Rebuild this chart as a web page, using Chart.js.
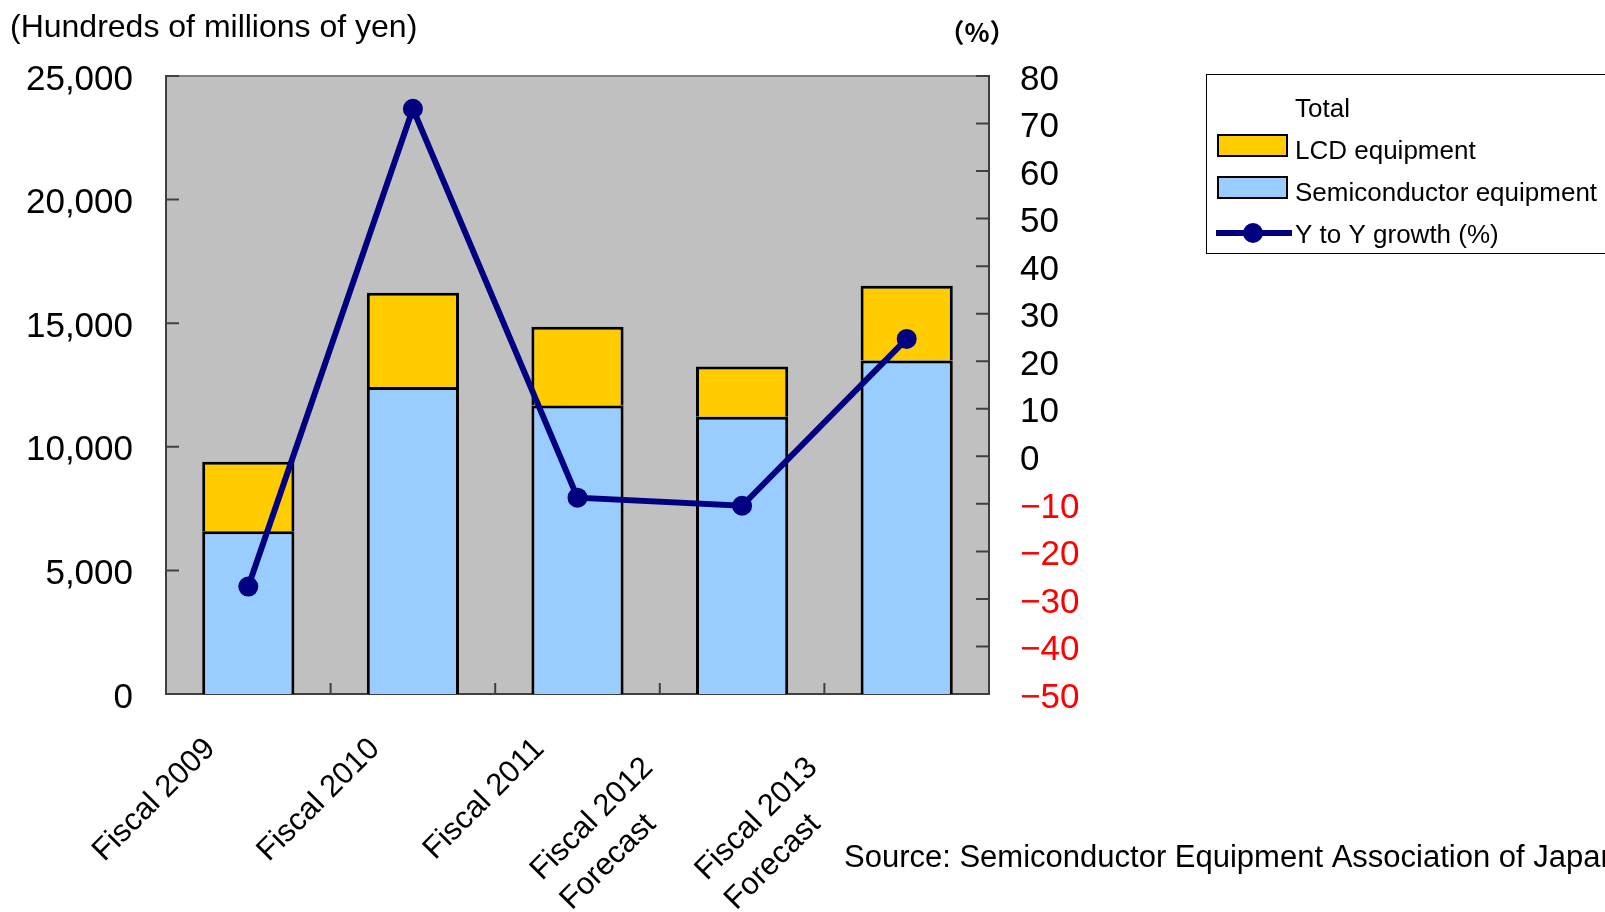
<!DOCTYPE html>
<html>
<head>
<meta charset="utf-8">
<script src="https://cdn.jsdelivr.net/npm/chart.js@4.4.0/dist/chart.umd.min.js"></script>
<style>
html, body { margin:0; padding:0; background:#fff; }
#wrap { position:relative; width:1605px; height:912px; }
</style>
</head>
<body>
<div id="wrap"><canvas id="grafica" width="1605" height="912"></canvas></div>
<script>
var anios = [["Fiscal 2009"], ["Fiscal 2010"], ["Fiscal 2011"], ["Fiscal 2012", "Forecast"], ["Fiscal 2013", "Forecast"]]
var semiconductores = [6580, 12420, 11670, 11220, 13490]
var lcd = [2820, 3810, 3190, 2030, 3020]
var crecimiento = [-27.4, 73.1, -8.7, -10.4, 24.7]
var leyendaTotal = "Total"
var tituloIzq = "(Hundreds of millions of yen)"
var tituloDer = "（%）"
var fuente = "Source: Semiconductor Equipment Association of Japan"

var fuenteTexto = "'Liberation Sans', Arial, sans-serif"

var extras = {
  id: 'extras',
  beforeDraw: function (chart) {
    var a = chart.chartArea, ctx = chart.ctx
    ctx.save()
    ctx.fillStyle = '#fff'
    ctx.fillRect(0, 0, chart.width, chart.height)
    ctx.fillStyle = '#C0C0C0'
    ctx.fillRect(a.left, a.top, a.right - a.left, a.bottom - a.top)
    ctx.strokeStyle = '#808080'
    ctx.lineWidth = 2
    ctx.beginPath()
    ctx.moveTo(a.left, a.top)
    ctx.lineTo(a.right, a.top)
    ctx.stroke()
    ctx.restore()
  },
  beforeDatasetsDraw: function (chart) {
    // marcas hacia adentro
    var a = chart.chartArea, ctx = chart.ctx
    var sx = chart.scales.x, sy = chart.scales.y, sy1 = chart.scales.y1
    ctx.save()
    ctx.strokeStyle = '#404040'
    ctx.lineWidth = 2
    ctx.beginPath()
    sy.ticks.forEach(function (t) {
      var py = sy.getPixelForValue(t.value)
      ctx.moveTo(a.left, py); ctx.lineTo(a.left + 13, py)
    })
    sy1.ticks.forEach(function (t) {
      var py = sy1.getPixelForValue(t.value)
      ctx.moveTo(a.right - 13, py); ctx.lineTo(a.right, py)
    })
    for (var i = 0; i < anios.length - 1; i++) {
      var px = (sx.getPixelForValue(i) + sx.getPixelForValue(i + 1)) / 2
      ctx.moveTo(px, a.bottom); ctx.lineTo(px, a.bottom - 11)
    }
    ctx.stroke()
    ctx.restore()
  },
  afterDraw: function (chart) {
    var ctx = chart.ctx, a = chart.chartArea, sx = chart.scales.x
    ctx.save()
    ctx.fillStyle = '#000'
    ctx.textBaseline = 'middle'

    // etiquetas del eje x, giradas 45 grados, lineas alineadas a la izquierda
    ctx.font = '31px ' + fuenteTexto
    anios.forEach(function (lineas, i) {
      var n = lineas.length
      var ax = sx.getPixelForValue(i) - 38 - 56 * (n - 1)
      var ay = a.bottom + 50 + 19 * (n - 1)
      var w1 = ctx.measureText(lineas[0]).width
      ctx.save()
      ctx.translate(ax, ay)
      ctx.rotate(-Math.PI / 4)
      ctx.textAlign = 'left'
      lineas.forEach(function (t, j) { ctx.fillText(t, -w1, j * 42) })
      ctx.restore()
    })

    ctx.textAlign = 'left'
    ctx.font = '32px ' + fuenteTexto
    ctx.fillText(tituloIzq, 10, 28)
    ctx.font = 'bold 26px "Noto Sans CJK JP", sans-serif'
    ctx.textAlign = 'center'
    ctx.fillText(tituloDer, 977, 32)
    ctx.textAlign = 'left'
    ctx.font = '31px ' + fuenteTexto
    ctx.fillText(fuente, 844, 858)

    // leyenda
    ctx.fillStyle = '#fff'
    ctx.fillRect(1206, 74, 420, 179)
    ctx.strokeStyle = '#000'
    ctx.lineWidth = 1
    ctx.strokeRect(1206.5, 74.5, 420, 179)
    ctx.font = '26px ' + fuenteTexto
    ctx.fillStyle = '#000'
    ctx.fillText(leyendaTotal, 1295, 110)
    var ds = chart.data.datasets
    var filas = [ds[1], ds[0]]
    filas.forEach(function (d, i) {
      var y = 145 + i * 42
      ctx.fillStyle = d.backgroundColor
      ctx.fillRect(1218, y - 10, 69, 21)
      ctx.lineWidth = 2
      ctx.strokeStyle = '#000'
      ctx.strokeRect(1218, y - 10, 69, 21)
      ctx.fillStyle = '#000'
      ctx.fillText(d.label, 1295, y + 7)
    })
    var l = ds[2]
    ctx.strokeStyle = l.borderColor
    ctx.lineWidth = 6
    ctx.beginPath()
    ctx.moveTo(1216, 233); ctx.lineTo(1292, 233)
    ctx.stroke()
    ctx.fillStyle = l.borderColor
    ctx.beginPath()
    ctx.arc(1253, 233, 10, 0, Math.PI * 2)
    ctx.fill()
    ctx.fillStyle = '#000'
    ctx.fillText(l.label, 1295, 236)
    ctx.restore()
  }
}

new Chart(document.getElementById('grafica').getContext('2d'), {
  type: 'bar',
  data: {
    labels: anios,
    datasets: [
      {
        label: 'Semiconductor equipment',
        data: semiconductores,
        backgroundColor: '#99CCFF',
        borderColor: '#000',
        borderWidth: { top: 3, left: 3, right: 3, bottom: 0 },
        borderSkipped: false,
        barPercentage: 0.56,
        categoryPercentage: 1.0,
        stack: 's',
        order: 1
      },
      {
        label: 'LCD equipment',
        data: lcd,
        backgroundColor: '#FFCC00',
        borderColor: '#000',
        borderWidth: { top: 3, left: 3, right: 3, bottom: 0 },
        borderSkipped: false,
        barPercentage: 0.56,
        categoryPercentage: 1.0,
        stack: 's',
        order: 1
      },
      {
        type: 'line',
        label: 'Y to Y growth (%)',
        data: crecimiento,
        yAxisID: 'y1',
        borderColor: '#000080',
        backgroundColor: '#000080',
        borderWidth: 6,
        pointRadius: 10,
        pointBackgroundColor: '#000080',
        pointBorderWidth: 0,
        tension: 0,
        order: 0
      }
    ]
  },
  options: {
    responsive: false,
    animation: false,
    devicePixelRatio: 1,
    layout: { padding: { top: 76, left: 0, right: 0, bottom: 0 } },
    plugins: { legend: { display: false }, tooltip: { enabled: false } },
    scales: {
      x: {
        stacked: true,
        grid: { display: false, drawTicks: false },
        border: { color: '#404040', width: 2 },
        ticks: { display: false },
        afterFit: function (s) { s.height = 218 }
      },
      y: {
        stacked: true,
        min: 0,
        max: 25000,
        grid: { display: false, drawTicks: false },
        border: { color: '#404040', width: 2 },
        ticks: {
          stepSize: 5000,
          color: '#000',
          padding: 33,
          labelOffset: 4,
          font: { family: fuenteTexto, size: 35 },
          callback: function (v) { return v.toLocaleString('en-US') }
        },
        afterFit: function (s) { s.width = 166 }
      },
      y1: {
        position: 'right',
        min: -50,
        max: 80,
        grid: { display: false, drawTicks: false },
        border: { color: '#404040', width: 2 },
        ticks: {
          stepSize: 10,
          padding: 31,
          labelOffset: 4,
          font: { family: fuenteTexto, size: 35 },
          color: function (c) { return c.tick && c.tick.value < 0 ? '#FF0000' : '#000' },
          callback: function (v) { return v < 0 ? '\u2212' + Math.abs(v) : String(v) }
        },
        afterFit: function (s) { s.width = 616 }
      }
    }
  },
  plugins: [extras]
})
</script>
</body>
</html>
